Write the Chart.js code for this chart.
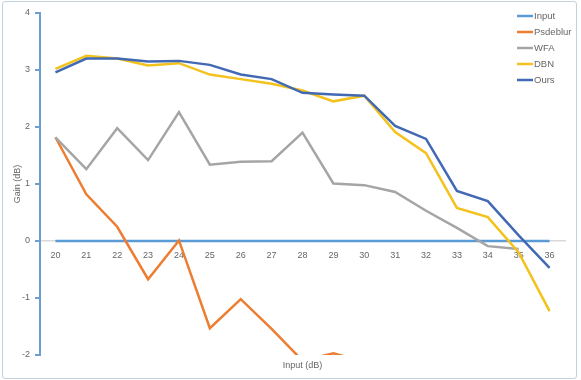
<!DOCTYPE html>
<html>
<head>
<meta charset="utf-8">
<script src="https://cdn.jsdelivr.net/npm/chart.js@4"></script>
<style>
  html, body { margin: 0; padding: 0; background: #fff; }
  #wrap { position: relative; width: 581px; height: 380px; }
  #frame { position: absolute; left: 2px; top: 1px; width: 573px; height: 376px;
           border: 1px solid #bfd2de; border-radius: 3px; pointer-events: none; }
</style>
</head>
<body>
<div id="wrap">
  <canvas id="chart" width="581" height="380"></canvas>
  <div id="frame"></div>
</div>
<script>
const categories = ["20","21","22","23","24","25","26","27","28","29","30","31","32","33","34","35","36"];
const inputVals = [0,0,0,0,0,0,0,0,0,0,0,0,0,0,0,0,0];
const psdeblur  = [1.82,0.82,0.25,-0.67,0.01,-1.53,-1.02,-1.54,-2.1,-1.97,-2.12,null,null,null,null,null,null];
const wfa       = [1.82,1.26,1.98,1.42,2.26,1.34,1.39,1.40,1.90,1.01,0.98,0.86,0.53,0.23,-0.09,-0.14,null];
const dbn       = [3.02,3.25,3.20,3.08,3.12,2.92,2.84,2.76,2.64,2.45,2.55,1.91,1.54,0.58,0.42,-0.20,-1.23];
const ours      = [2.96,3.20,3.20,3.15,3.16,3.09,2.92,2.84,2.60,2.57,2.55,2.02,1.79,0.88,0.70,0.10,-0.47];

const seriesNames  = ["Input","Psdeblur","WFA","DBN","Ours"];
const seriesColors = ["#5b9bd5","#ed7d31","#a5a5a5","#f4c21c","#4169b4"];
const seriesData   = [inputVals, psdeblur, wfa, dbn, ours];

const tickColor = "#666666";
const axisBlue = "#6a9fd0";

// legend drawn top-right over the plot, like the Excel original
const sideLegend = {
  id: "sideLegend",
  afterDraw(chart) {
    const ctx = chart.ctx;
    ctx.save();
    ctx.font = "9.5px 'Liberation Sans', Arial, sans-serif";
    ctx.textBaseline = "middle";
    chart.data.datasets.forEach((ds, i) => {
      const y = 16 + i * 16;
      ctx.strokeStyle = ds.borderColor;
      ctx.lineWidth = 2.5;
      ctx.beginPath(); ctx.moveTo(517, y); ctx.lineTo(533, y); ctx.stroke();
      ctx.fillStyle = tickColor;
      ctx.fillText(ds.label, 534, y);
    });
    ctx.restore();
  }
};

new Chart(document.getElementById("chart"), {
  type: "line",
  data: {
    labels: categories,
    datasets: seriesNames.map((name, i) => ({
      label: name,
      data: seriesData[i],
      borderColor: seriesColors[i],
      backgroundColor: seriesColors[i],
      borderWidth: 2.5,
      pointRadius: 0,
      tension: 0,
      spanGaps: false,
      order: seriesNames.length - 1 - i
    }))
  },
  options: {
    responsive: false,
    animation: false,
    layout: { padding: { left: 0, top: 13, right: 16, bottom: 0 } },
    plugins: { legend: { display: false }, tooltip: { enabled: false } },
    scales: {
      x: {
        type: "category",
        position: "bottom",
        offset: true,
        grid: { display: false },
        border: { display: false },
        ticks: { display: false },
        title: { display: true, text: "Input (dB)", color: tickColor,
                 font: { family: "'Liberation Sans', Arial, sans-serif", size: 9 },
                 padding: { top: 0, bottom: 9 } },
        afterFit: s => { s.height = 25; }
      },
      x2: {
        type: "category",
        labels: categories,
        position: { y: 0 },
        offset: true,
        grid: { display: true, drawOnChartArea: false, drawTicks: false },
        border: { display: true, color: "#d9d9d9", width: 1.5 },
        ticks: { color: tickColor, padding: 9, maxRotation: 0, autoSkip: false,
                 font: { family: "'Liberation Sans', Arial, sans-serif", size: 9 } }
      },
      y: {
        min: -2, max: 4,
        ticks: { stepSize: 1, color: tickColor, padding: 5,
                 font: { family: "'Liberation Sans', Arial, sans-serif", size: 9 } },
        grid: { display: true, drawOnChartArea: false, drawTicks: true, tickLength: 5, color: axisBlue, lineWidth: 2 },
        border: { display: true, color: axisBlue, width: 2 },
        title: { display: true, text: "Gain (dB)", color: tickColor,
                 font: { family: "'Liberation Sans', Arial, sans-serif", size: 9 },
                 padding: { top: 12, bottom: 0 } },
        afterFit: s => { s.width = 40; }
      }
    }
  },
  plugins: [sideLegend]
});
</script>
</body>
</html>
